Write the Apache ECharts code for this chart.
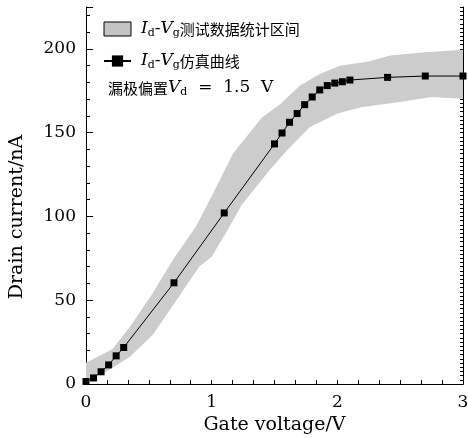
<!DOCTYPE html>
<html>
<head>
<meta charset="utf-8">
<script src="https://cdn.jsdelivr.net/npm/echarts@6/dist/echarts.min.js"></script>
<style>
  html, body { margin: 0; padding: 0; background: #fff; }
  #chart { width: 468px; height: 438px; }
</style>
</head>
<body>
<div id="chart"></div>
<script>
// simulated Id-Vg curve (Vd = 1.5 V)
var simX = [0, 0.06, 0.12, 0.18, 0.24, 0.3, 0.7, 1.1, 1.5, 1.56, 1.62, 1.68, 1.74, 1.8, 1.86, 1.92, 1.98, 2.04, 2.1, 2.4, 2.7, 3.0]
var simY = [1.5, 3.6, 7.3, 11.4, 16.8, 21.8, 60.4, 102.1, 143.3, 149.8, 156.2, 161.4, 166.7, 171.3, 175.5, 178.1, 179.6, 180.4, 181.4, 183.0, 183.8, 183.8]

// measured band: upper / lower edges
var upperX = [0, 0.21, 0.35, 0.53, 0.69, 0.875, 1.0, 1.17, 1.4, 1.55, 1.7, 1.86, 2.02, 2.25, 2.42, 2.7, 3.0]
var upperY = [12.7, 20.7, 34.2, 54, 74, 94, 112, 137.5, 159, 167.3, 178, 185, 190, 192.5, 196, 198, 199.5]
var lowerX = [0, 0.16, 0.35, 0.53, 0.72, 0.9, 1.0, 1.12, 1.24, 1.46, 1.6, 1.78, 2.0, 2.2, 2.5, 2.75, 3.0]
var lowerY = [2.4, 7.3, 16.3, 29.2, 50, 70, 76, 91, 107, 127.5, 139.5, 153.2, 161.4, 165.3, 168.3, 171.3, 170.3]

var xTicks = [0, 1, 2, 3]
var yTicks = [0, 50, 100, 150, 200]

var bandName = 'Id-Vg测试数据统计区间'
var simName = 'Id-Vg仿真曲线'

var serif = '"DejaVu Serif", "Noto Sans CJK SC", serif'
var cjk = '"Noto Sans CJK SC", sans-serif'
var rich = {
  g: { width: 5 },
  i: { fontFamily: serif, fontStyle: 'italic', fontSize: 17, color: '#000', lineHeight: 20 },
  s: { fontFamily: serif, fontSize: 11, color: '#000', lineHeight: 8, verticalAlign: 'bottom' },
  n: { fontFamily: serif, fontSize: 17, color: '#000', lineHeight: 20 },
  c: { fontFamily: cjk, fontSize: 15, color: '#000', lineHeight: 20 }
}

var simData = []
for (var i = 0; i < simX.length; i++) {
  simData.push([simX[i], simY[i]])
}
var upper = []
for (var i = 0; i < upperX.length; i++) {
  upper.push([upperX[i], upperY[i]])
}
var lower = []
for (var i = 0; i < lowerX.length; i++) {
  lower.push([lowerX[i], lowerY[i]])
}

var chart = echarts.init(document.getElementById('chart'))
chart.setOption({
  animation: false,
  grid: { left: 86, right: 5, top: 7, bottom: 54, outerBoundsMode: 'none' },
  legend: {
    orient: 'vertical',
    left: 103,
    top: 19,
    padding: 0,
    itemWidth: 27,
    itemHeight: 14,
    itemGap: 12,
    data: [
      { name: bandName, icon: 'rect', itemStyle: { color: '#c4c4c4', borderColor: '#000', borderWidth: 1 } },
      { name: simName }
    ],
    formatter: function (name) {
      if (name === bandName) return '{g| }{i|I}{s|d}{n|-}{i|V}{s|g}{c|测试数据统计区间}'
      return '{g| }{i|I}{s|d}{n|-}{i|V}{s|g}{c|仿真曲线}'
    },
    textStyle: { fontFamily: serif, fontSize: 17, color: '#000', lineHeight: 20, rich: rich }
  },
  graphic: [
    {
      type: 'text',
      left: 108,
      top: 78,
      style: {
        text: '{c|漏极偏置}{i|V}{s|d}{n|  =  1.5  V}',
        fontFamily: serif,
        fontSize: 17,
        lineHeight: 20,
        fill: '#000',
        rich: rich
      }
    },
    {
      type: 'text',
      x: 17,
      y: 217,
      rotation: Math.PI / 2,
      style: {
        text: 'Drain current/nA',
        fontFamily: serif,
        fontSize: 19,
        fill: '#000',
        align: 'center',
        verticalAlign: 'middle'
      }
    }
  ],
  xAxis: [
    {
      type: 'value',
      min: 0,
      max: 3,
      interval: 1 / 6,
      splitLine: { show: false },
      axisLine: { lineStyle: { color: '#000', width: 1 } },
      axisTick: { inside: true, length: 4, lineStyle: { color: '#000' } },
      axisLabel: {
        color: '#000',
        fontFamily: serif,
        fontSize: 17,
        margin: 10,
        formatter: function (v) {
          for (var k = 0; k < xTicks.length; k++) {
            if (Math.abs(v - xTicks[k]) < 0.01) return String(xTicks[k])
          }
          return ''
        }
      },
      name: 'Gate voltage/V',
      nameLocation: 'middle',
      nameGap: 32,
      nameTextStyle: { color: '#000', fontFamily: serif, fontSize: 19 }
    },
    {
      type: 'value',
      position: 'top',
      min: 0,
      max: 3,
      splitLine: { show: false },
      axisLine: { lineStyle: { color: '#000', width: 1 } },
      axisTick: { show: false },
      axisLabel: { show: false }
    }
  ],
  yAxis: [
    {
      type: 'value',
      position: 'left',
      min: 0,
      max: 225,
      interval: 50,
      splitLine: { show: false },
      axisLine: { show: true, lineStyle: { color: '#000', width: 1 } },
      axisTick: { inside: true, length: 7, lineStyle: { color: '#000' } },
      axisLabel: {
        color: '#000',
        fontFamily: serif,
        fontSize: 17,
        margin: 10,
        formatter: function (v) {
          return yTicks.indexOf(v) >= 0 ? String(v) : ''
        }
      }
    },
    {
      type: 'value',
      position: 'left',
      min: 0,
      max: 225,
      interval: 10,
      splitLine: { show: false },
      axisLine: { show: false },
      axisTick: { inside: true, length: 4, lineStyle: { color: '#000' } },
      axisLabel: { show: false }
    },
    {
      type: 'value',
      position: 'right',
      min: 0,
      max: 225,
      interval: 2.5,
      splitLine: { show: false },
      axisLine: { show: true, lineStyle: { color: '#000', width: 1 } },
      axisTick: { inside: true, length: 3, lineStyle: { color: '#000' } },
      axisLabel: { show: false }
    }
  ],
  series: [
    {
      name: bandName,
      type: 'custom',
      xAxisIndex: 0,
      yAxisIndex: 0,
      z: 1,
      silent: true,
      data: [upper[0]],
      renderItem: function (params, api) {
        if (params.dataIndex !== 0) return
        var pts = []
        for (var i = 0; i < upper.length; i++) pts.push(api.coord(upper[i]))
        for (var j = lower.length - 1; j >= 0; j--) pts.push(api.coord(lower[j]))
        return {
          type: 'polygon',
          shape: { points: pts },
          style: { fill: '#cccccc' }
        }
      }
    },
    {
      name: simName,
      type: 'line',
      xAxisIndex: 0,
      yAxisIndex: 0,
      z: 3,
      symbol: 'rect',
      symbolSize: 7,
      showSymbol: true,
      showAllSymbol: true,
      color: '#000',
      lineStyle: { color: '#000', width: 1 },
      itemStyle: { color: '#000' },
      data: simData
    }
  ]
})
</script>
</body>
</html>
